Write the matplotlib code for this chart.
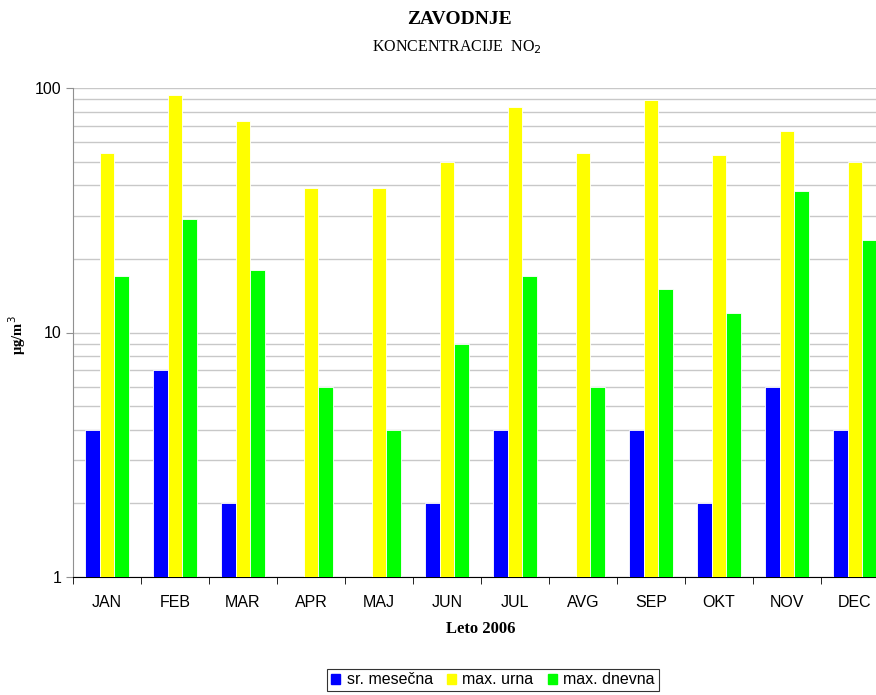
import numpy as np
import matplotlib
matplotlib.use("Agg")
import matplotlib.pyplot as plt
from matplotlib.ticker import LogLocator, FixedLocator, FixedFormatter, NullFormatter

months = ["JAN", "FEB", "MAR", "APR", "MAJ", "JUN", "JUL", "AVG", "SEP", "OKT", "NOV", "DEC"]
# NaN = no bar (value below axis minimum)
sr_mesecna = [4, 7, 2, np.nan, np.nan, 2, 4, np.nan, 4, 2, 6, 4]
max_urna = [54, 94, 73, 39, 39, 50, 84, 54, 89, 53, 67, 50]
max_dnevna = [17, 29, 18, 6, 4, 9, 17, 6, 15, 12, 38, 24]

sans = ["Liberation Sans", "DejaVu Sans"]
serif = ["Liberation Serif", "DejaVu Serif"]

fig = plt.figure(figsize=(8.76, 6.95), dpi=100)
ax = fig.add_axes([73 / 876, 118 / 695, 816 / 876, 489 / 695])

x = np.arange(len(months))
w = 0.215
ax.bar(x - w, sr_mesecna, w, color="#0000ff", edgecolor="white", linewidth=0.6, zorder=3)
ax.bar(x, max_urna, w, color="#ffff00", edgecolor="white", linewidth=0.6, zorder=3)
ax.bar(x + w, max_dnevna, w, color="#00ff00", edgecolor="white", linewidth=0.6, zorder=3)

ax.set_yscale("log")
ax.set_ylim(1, 100)
ax.set_xlim(-0.5, len(months) - 0.5)

ax.yaxis.set_major_locator(FixedLocator([1, 10, 100]))
ax.yaxis.set_major_formatter(FixedFormatter(["1", "10", "100"]))
ax.yaxis.set_minor_locator(LogLocator(base=10, subs=np.arange(2, 10)))
ax.yaxis.set_minor_formatter(NullFormatter())
ax.grid(True, which="both", axis="y", color="#c8c8c8", linewidth=1.0, zorder=0)
ax.axhline(100, color="#909090", linewidth=1.3, zorder=1)
ax.tick_params(axis="y", which="minor", length=0)
ax.tick_params(axis="y", which="major", length=5, color="#909090", direction="out")

ax.set_xticks(x)
ax.set_xticklabels(months, fontfamily=sans, fontsize=11.5)
ax.set_xticks(np.arange(-0.5, len(months)), minor=True)
ax.tick_params(axis="x", which="major", length=0, pad=13)
ax.tick_params(axis="x", which="minor", length=5, direction="out", color="black")
for lab in ax.get_yticklabels():
    lab.set_fontfamily(sans)
    lab.set_fontsize(11.5)

for s in ["top", "right"]:
    ax.spines[s].set_visible(False)
ax.spines["left"].set_color("#909090")
ax.spines["bottom"].set_color("black")

ax.set_xlabel("Leto 2006", fontfamily=serif, fontweight="bold", fontsize=12, labelpad=8)
fig.text(0.02, 1 - 335 / 695, "μg/m$^3$", rotation=90, ha="center", va="center",
         fontfamily=serif, fontweight="bold", fontsize=10.5)

fig.text(459 / 876, 1 - 20 / 695, "ZAVODNJE", ha="center", va="center", fontfamily=serif,
         fontweight="bold", fontsize=14)
fig.text(457 / 876, 1 - 47 / 695, "KONCENTRACIJE  NO$_2$", ha="center", va="center",
         fontfamily=serif, fontsize=11.5)

handles = [plt.Rectangle((0, 0), 1, 1, color=c) for c in ["#0000ff", "#ffff00", "#00ff00"]]
leg = fig.legend(handles, ["sr. mesečna", "max. urna", "max. dnevna"], loc="center",
                 bbox_to_anchor=(493 / 876, 1 - 680 / 695), ncol=3, frameon=True,
                 fancybox=False, edgecolor="black", handlelength=0.55, handleheight=0.55,
                 handletextpad=0.4, columnspacing=0.9, borderpad=0.25,
                 prop={"family": sans, "size": 11.5})
leg.get_frame().set_linewidth(0.8)

fig.savefig("out.png", dpi=100)
